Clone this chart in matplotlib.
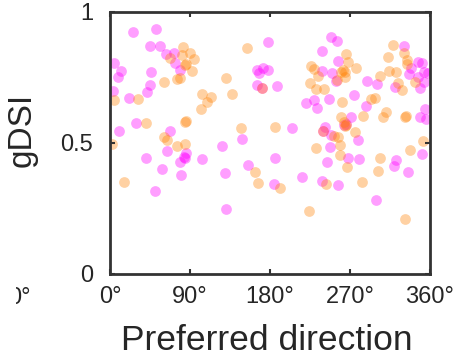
import matplotlib
matplotlib.use('agg')
from matplotlib import pyplot as plt
from matplotlib.transforms import Bbox

# magenta group: preferred direction (deg), gDSI
mag_dir = [26, 52, 45, 56, 63, 72, 4, 12, 9, 46, 45, 42, 3, 21, 73, 79, 29, 10, 68,
           165, 172, 178, 168, 165, 171, 178, 149, 126, 188, 239, 239, 221, 229, 233,
           205, 240, 249, 255, 257, 250, 254, 289, 300, 321, 274, 246, 288, 271, 263,
           266, 242, 249, 279, 331, 347, 351, 339, 336, 353, 358, 347, 353, 349, 354,
           349, 356, 40, 64, 85, 79, 84, 83, 58, 80, 104, 51, 186, 155, 129, 185, 216,
           239, 131, 244, 248, 268, 280, 256, 322, 320, 335, 351, 299]
mag_gdsi = [.924, .934, .871, .870, .840, .842, .806, .776, .753, .772, .721, .694, .698,
            .671, .804, .779, .575, .547, .545, .779, .785, .779, .769, .721, .710, .887,
            .514, .490, .719, .851, .775, .652, .664, .632, .558, .547, .906, .889, .813,
            .766, .737, .737, .725, .714, .683, .668, .641, .600, .569, .571, .562, .531,
            .511, .870, .810, .805, .785, .763, .772, .766, .753, .734, .711, .630, .599,
            .592, .442, .469, .461, .429, .442, .448, .401, .378, .438, .317, .444, .416,
            .384, .344, .371, .355, .248, .426, .484, .442, .438, .340, .434, .412, .389,
            .457, .284]

# orange group
org_dir = [82, 90, 81, 67, 95, 84, 86, 92, 79, 75, 61, 4, 31, 104, 114, 109, 102, 84, 85,
           41, 61, 64, 2, 75, 84, 131, 137, 154, 147, 226, 229, 234, 225, 232, 241, 186,
           171, 266, 268, 262, 264, 260, 277, 264, 255, 261, 294, 298, 304, 314, 322, 313,
           318, 331, 334, 334, 343, 324, 328, 311, 307, 285, 332, 333, 260, 266, 263, 264,
           276, 257, 252, 259, 232, 352, 337, 163, 167, 191, 224, 259, 267, 304, 302, 284,
           243, 332, 16, 240]
org_gdsi = [.865, .842, .836, .823, .821, .798, .800, .775, .747, .743, .732, .664, .668,
            .687, .674, .658, .629, .581, .585, .575, .523, .511, .496, .489, .495, .747,
            .687, .861, .558, .794, .781, .757, .729, .707, .706, .562, .710, .838, .811,
            .779, .772, .771, .788, .753, .740, .655, .669, .671, .757, .775, .772, .829,
            .875, .845, .817, .802, .734, .728, .702, .619, .599, .603, .599, .602, .598,
            .569, .580, .565, .541, .524, .527, .492, .480, .506, .473, .390, .346, .330,
            .240, .454, .407, .442, .393, .352, .345, .211, .352, .544]

x_ticks = [0, 90, 180, 270, 360]
x_labels = ['0°', '90°', '180°', '270°', '360°']
y_ticks = [0, 0.5, 1]
y_labels = ['0', '0.5', '1']

plt.rcParams['font.family'] = ['Liberation Sans', 'DejaVu Sans']
dark = '#333333'

fig = plt.figure(figsize=(4.54, 3.62), dpi=100)
ax = fig.add_axes([0.2423, 0.2431, 0.7048, 0.7238])

ax.scatter(mag_dir, mag_gdsi, s=60, color='#ff00ff', alpha=0.38, linewidths=0)
ax.scatter(org_dir, org_gdsi, s=60, color='#ff8000', alpha=0.36, linewidths=0)

ax.set_xlim(0, 360)
ax.set_ylim(0, 1)
ax.set_xticks(x_ticks)
ax.set_xticklabels(x_labels)
ax.set_yticks(y_ticks)
ax.set_yticklabels(y_labels)
ax.tick_params(direction='in', top=True, right=True, length=3.5, width=1.5,
               color=dark, labelcolor='#262626', labelsize=17)
ax.tick_params(axis='x', pad=9)
ax.tick_params(axis='y', pad=12)
for sp in ax.spines.values():
    sp.set_linewidth(2)
    sp.set_color(dark)

ax.set_ylabel('gDSI', fontsize=24, color='#262626')
ax.yaxis.set_label_coords(-0.225, 0.55)
ax.set_xlabel('Preferred direction', fontsize=25.5, color='#262626', va='center')
ax.xaxis.set_label_coords(0.49, -0.252)

# clipped tick label of the neighbouring panel
t = fig.text(31 / 454, 1 - 298 / 362, '0°', ha='right', va='center',
             fontsize=17, color='#262626')
t.set_clip_on(True)
t.set_clip_box(Bbox.from_extents(16, 0, 454, 362))

fig.savefig('out.png', dpi=100)
